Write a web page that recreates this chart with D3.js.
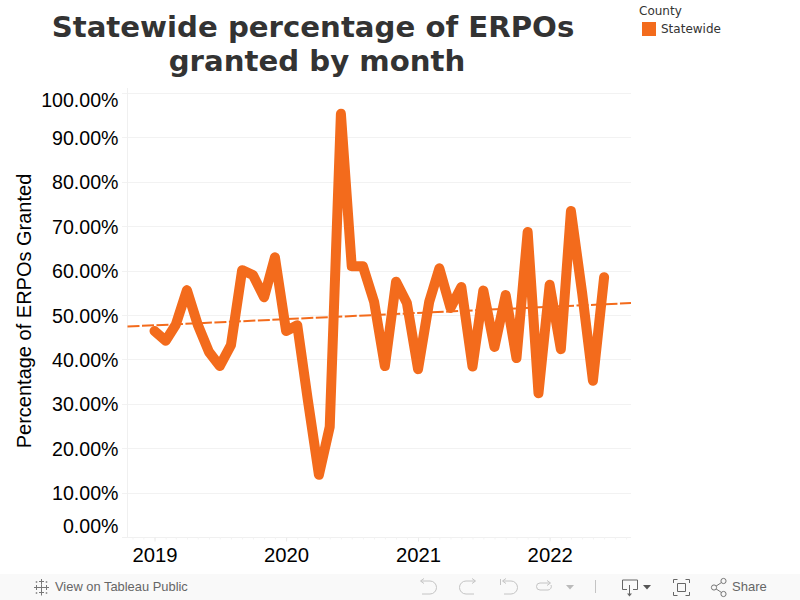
<!DOCTYPE html>
<html><head><meta charset="utf-8">
<script src="https://cdn.jsdelivr.net/npm/d3@7/dist/d3.min.js"></script>
<style>html,body{margin:0;padding:0;background:#fff;overflow:hidden}svg{display:block}</style>
</head><body><svg id="c" width="800" height="600"></svg>
<script>
const titleLines = ["Statewide percentage of ERPOs", "granted by month"];
const yAxisTitle = "Percentage of ERPOs Granted";
const legendTitle = "County";
const seriesName = "Statewide";
const startYear = 2019;
const values = [46.4,44.2,47.8,55.6,47.8,41.7,38.5,43.2,60.1,59,54,63,
  46.4,47.7,31,14,24.8,95.3,61,61,53,38.5,57.5,52.7,
  37.8,53,60.5,51.6,56.3,38.4,55.5,42.8,54.5,40.3,68.7,32.4,
  56.8,42.3,73.4,55,35.2,58.5];
const trendMonths = [-2.46, 43.42];
const trendValues = [47.4, 52.7];
const yTicks = [0,10,20,30,40,50,60,70,80,90,100];
const yearTicks = [2019,2020,2021,2022];
const orange = "#f36b1c";

const svg = d3.select("#c");
const mDate = m => new Date(Date.UTC(startYear, 0, 1).valueOf() + m * 30.4375 * 864e5);
const monthDates = values.map((_, i) => new Date(Date.UTC(startYear, i, 1)));
const x = d3.scaleUtc().domain([mDate(-2.46), mDate(43.42)]).range([127.5, 631]);
const y = d3.scaleLinear().domain([0, 100]).range([537, 93]);
const arial = "'Liberation Sans',Arial,sans-serif";

// gridlines
svg.append("g").selectAll("line").data(yTicks.filter(t => t > 0)).join("line")
  .attr("x1", 122).attr("x2", 631).attr("y1", d => Math.round(y(d)) + .5).attr("y2", d => Math.round(y(d)) + .5)
  .attr("stroke", "#f2f2f2");
svg.append("line").attr("x1", 127.5).attr("x2", 127.5).attr("y1", 88).attr("y2", 537).attr("stroke", "#f0f0f0");
svg.append("line").attr("x1", 122).attr("x2", 631).attr("y1", 537.5).attr("y2", 537.5).attr("stroke", "#f0f0f0");

// y axis
const yA = svg.append("g").attr("transform", "translate(127.5,0)")
  .call(d3.axisLeft(y).tickValues(yTicks).tickSize(0).tickFormat(d => d.toFixed(2) + "%"));
yA.select(".domain").remove();
yA.selectAll("text").attr("font-family", arial).attr("font-size", 19.6)
  .attr("fill", "#000").attr("x", -9).attr("dy", "0.36em")
  .attr("y", d => d === 100 ? 6 : d === 0 ? -12 : 0);

// x axis
const xMin = svg.append("g").attr("transform", "translate(0,537.5)")
  .call(d3.axisBottom(x).tickValues(d3.utcMonth.range(new Date(Date.UTC(2018,10,1)), new Date(Date.UTC(2022,8,1)))).tickSize(2).tickFormat(""));
xMin.selectAll("line").attr("stroke", "#f3f3f3");
xMin.select(".domain").remove();
const xMaj = svg.append("g").attr("transform", "translate(0,537.5)")
  .call(d3.axisBottom(x).tickValues(yearTicks.map(t => new Date(Date.UTC(t,0,1)))).tickSize(4).tickFormat(d3.utcFormat("%Y")));
xMaj.select(".domain").remove();
xMaj.selectAll("line").attr("stroke", "#ebebeb");
xMaj.selectAll("text").attr("font-family", arial).attr("font-size", 20.3).attr("fill", "#000").attr("y", 10);

// trend
svg.append("path").datum(trendMonths.map((m, i) => [mDate(m), trendValues[i]]))
  .attr("d", d3.line().x(d => x(d[0])).y(d => y(d[1])))
  .attr("fill", "none").attr("stroke", orange).attr("stroke-width", 2).attr("stroke-dasharray", "12 2.5");

// series
svg.append("path").datum(values)
  .attr("d", d3.line().x((d, i) => x(monthDates[i])).y(d => y(d)))
  .attr("fill", "none").attr("stroke", orange).attr("stroke-width", 10)
  .attr("stroke-linejoin", "round").attr("stroke-linecap", "round");

// title
svg.append("g").selectAll("text").data(titleLines).join("text")
  .attr("x", (d, i) => i ? 317 : 313).attr("y", (d, i) => 37 + i * 34).attr("text-anchor", "middle")
  .attr("font-family", "'DejaVu Sans',sans-serif").attr("font-weight", "bold").attr("font-size", 29.2)
  .attr("fill", "#333").text(d => d);

// y title
svg.append("text").attr("transform", "translate(31,311) rotate(-90)").attr("text-anchor", "middle")
  .attr("font-family", arial).attr("font-size", 20).attr("fill", "#000").text(yAxisTitle);

// legend
svg.append("text").attr("x", 639).attr("y", 15).attr("font-family", "'DejaVu Sans',sans-serif")
  .attr("font-size", 12).attr("fill", "#333").text(legendTitle);
svg.append("rect").attr("x", 642).attr("y", 22).attr("width", 14).attr("height", 14).attr("fill", orange);
svg.append("text").attr("x", 661).attr("y", 33).attr("font-family", "'DejaVu Sans',sans-serif")
  .attr("font-size", 12).attr("fill", "#333").text(seriesName);

// toolbar
const tb = svg.append("g");
tb.append("rect").attr("x", 0).attr("y", 574).attr("width", 800).attr("height", 26).attr("fill", "#f9f9f9");
tb.append("text").attr("x", 55).attr("y", 591).attr("font-family", arial).attr("font-size", 12.9).attr("fill", "#666").text("View on Tableau Public");
tb.append("text").attr("x", 732).attr("y", 591).attr("font-family", arial).attr("font-size", 13).attr("fill", "#666").text("Share");
const icon = (d, c = "#777") => tb.append("path").attr("d", d).attr("fill", "none").attr("stroke", c).attr("stroke-width", 1);
// tableau logo: crosses
icon("M41.5 579v5.5M39 581.5h5M41.5 590v5.5M39 592.5h5M34 587.5h5M36.5 585v5M44 587.5h5M46.5 585v5M41.5 584.5v6M38.5 587.5h6", "#777");
icon("M36.5 581v2M35.5 582h2M46.5 581v2M45.5 582h2M36.5 592v2M35.5 593h2M46.5 592v2M45.5 593h2", "#999");
const g = "#c4c4c4";
icon("M421 581h9a6.5 6.5 0 0 1 0 13h-8M424 578.5l-3.5 2.5 3.5 2.5", g);
icon("M475 581h-9a6.5 6.5 0 0 0 0 13h8M472 578.5l3.5 2.5-3.5 2.5", g);
icon("M500.5 579v6M503 581h8a6.5 6.5 0 0 1 0 13h-7M506 578.5l-3.5 2.5 3.5 2.5", g);
icon("M550 583h-10a3.5 3.5 0 0 0 0 7h8a3.5 3.5 0 0 0 3-5M547 580.5l3.5 2.5-3.5 2.5", g);
tb.append("path").attr("d", "M566 585h8l-4 4.5z").attr("fill", "#bbb");
icon("M595.5 580v13", "#c4c4c4");
icon("M627 589.5h-4.5v-9.5h15v9.5h-4.5M629.5 585v10", "#666");
tb.append("path").attr("d", "M627 593.5h5l-2.5 3z").attr("fill", "#666");
tb.append("path").attr("d", "M643 585h8l-4 4.5z").attr("fill", "#555");
icon("M677.5 583.5h8v8h-8zM673.5 583v-3.5h4M689.5 583v-3.5h-4M673.5 592v3.5h4M689.5 592v3.5h-4", "#666");
icon("M714 587.5l9-6M714 587.5l9 6", "#777");
[[714,587.5],[723.5,581],[723.5,594]].forEach(p => tb.append("circle").attr("cx", p[0]).attr("cy", p[1]).attr("r", 2.6).attr("fill", "#f9f9f9").attr("stroke", "#777"));
</script></body></html>
